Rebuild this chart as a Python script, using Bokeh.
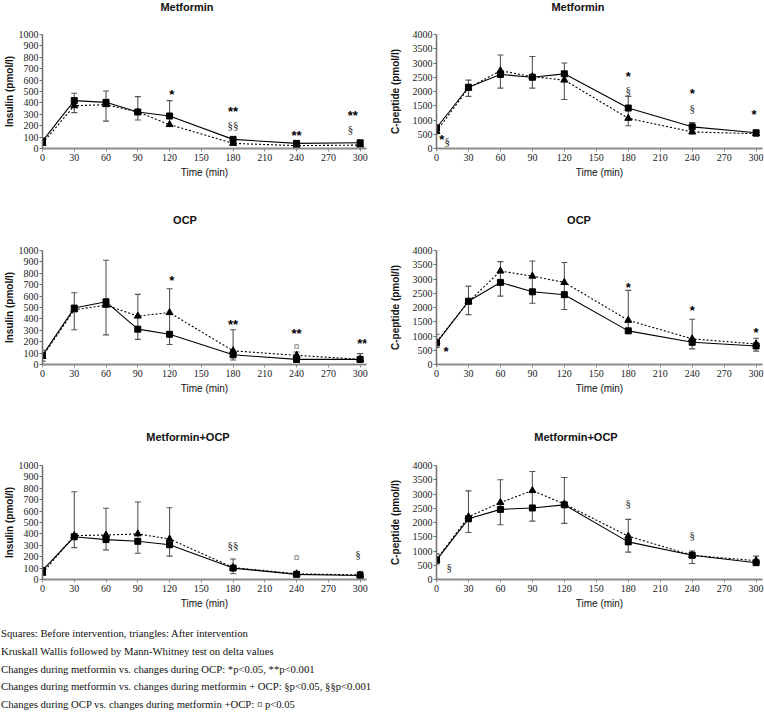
from bokeh.plotting import figure
from bokeh.layouts import column, row
from bokeh.models import Range1d, FixedTicker, Whisker, TeeHead, ColumnDataSource, Div, LabelSet
from bokeh.core.properties import value
from bokeh.embed import file_html
from bokeh.resources import INLINE

# ---------------- data ----------------
time = [0, 30, 60, 90, 120, 180, 240, 300]
x_ticks = [0, 30, 60, 90, 120, 150, 180, 210, 240, 270, 300]
ins_ticks = [0, 100, 200, 300, 400, 500, 600, 700, 800, 900, 1000]
cp_ticks = [0, 500, 1000, 1500, 2000, 2500, 3000, 3500, 4000]

# Metformin - insulin
met_ins_sq = [65, 420, 405, 320, 285, 80, 45, 50]
met_ins_tri = [45, 375, 385, 320, 210, 45, 25, 30]
met_ins_lo = [35, 315, 240, 250, 200, 40, 15, 25]
met_ins_hi = [90, 485, 505, 455, 420, 95, 60, 65]
met_ins_ann_x = [122, 180, 180, 240, 293, 291]
met_ins_ann_y = [512, 360, 205, 152, 327, 175]
met_ins_ann_t = ["*", "**", "§§", "**", "**", "§"]

# Metformin - C-peptide
met_cp_sq = [720, 2150, 2600, 2500, 2620, 1420, 760, 550]
met_cp_tri = [600, 2120, 2730, 2520, 2400, 1060, 580, 520]
met_cp_lo = [520, 1830, 2120, 2120, 1720, 800, 520, 430]
met_cp_hi = [820, 2400, 3280, 3230, 3000, 1830, 910, 630]
met_cp_ann_x = [5, 10, 180, 180, 240, 240, 298]
met_cp_ann_y = [450, 270, 2650, 2040, 2065, 1430, 1330]
met_cp_ann_t = ["*", "§", "*", "§", "*", "§", "*"]

# OCP - insulin
ocp_ins_sq = [80, 495, 550, 310, 265, 85, 45, 45]
ocp_ins_tri = [70, 480, 520, 425, 455, 120, 80, 45]
ocp_ins_lo = [30, 305, 260, 220, 175, 40, 20, 20]
ocp_ins_hi = [125, 630, 915, 615, 665, 305, 110, 95]
ocp_ins_ann_x = [122, 180, 240, 240, 302]
ocp_ins_ann_y = [770, 385, 310, 160, 222]
ocp_ins_ann_t = ["*", "**", "**", "¤", "**"]

# OCP - C-peptide
ocp_cp_sq = [760, 2220, 2880, 2550, 2450, 1180, 780, 650]
ocp_cp_tri = [790, 2200, 3280, 3100, 2880, 1550, 900, 720]
ocp_cp_lo = [600, 1750, 2400, 2150, 1930, 1100, 550, 470]
ocp_cp_hi = [1060, 2750, 3610, 3630, 3580, 2600, 1590, 920]
ocp_cp_ann_x = [9, 180, 240, 300]
ocp_cp_ann_y = [590, 2850, 2020, 1250]
ocp_cp_ann_t = ["*", "*", "*", "*"]

# Metformin+OCP - insulin
mo_ins_sq = [80, 375, 350, 335, 305, 100, 45, 35]
mo_ins_tri = [55, 385, 390, 400, 355, 105, 50, 40]
mo_ins_lo = [50, 280, 260, 230, 205, 50, 30, 20]
mo_ins_hi = [100, 770, 625, 680, 630, 180, 60, 70]
mo_ins_ann_x = [180, 240, 298]
mo_ins_ann_y = [300, 200, 226]
mo_ins_ann_t = ["§§", "¤", "§"]

# Metformin+OCP - C-peptide
mo_cp_sq = [680, 2130, 2460, 2510, 2620, 1320, 850, 590]
mo_cp_tri = [700, 2200, 2700, 3120, 2650, 1520, 850, 660]
mo_cp_lo = [550, 1650, 1920, 2050, 1970, 960, 560, 500]
mo_cp_hi = [900, 3110, 3500, 3790, 3580, 2110, 1000, 820]
mo_cp_ann_x = [12, 180, 240]
mo_cp_ann_y = [430, 2680, 1575]
mo_cp_ann_t = ["§", "§", "§"]

row_titles = [("Metformin", "Metformin"), ("OCP", "OCP"), ("Metformin+OCP", "Metformin+OCP")]

footnotes = [
    "Squares: Before intervention, triangles: After intervention",
    "Kruskall Wallis followed by Mann-Whitney test on delta values",
    "Changes during metformin vs. changes during OCP: *p&lt;0.05, **p&lt;0.001",
    "Changes during metformin vs. changes during metformin + OCP: §p&lt;0.05, §§p&lt;0.001",
    "Changes during OCP vs. changes during metformin +OCP: ¤ p&lt;0.05",
]

SANS = "Liberation Sans"
SERIF = "Liberation Serif"
X_END = 306


def panel(ylabel, ymax, yticks, sq, tri, lo, hi, ax, ay, at,
          width, height, mbl, mbr, mbt, mbb, ylab_stand):
    p = figure(width=width, height=height, x_range=Range1d(0, X_END),
               y_range=Range1d(0, ymax), output_backend="svg",
               toolbar_location=None,
               min_border_left=mbl, min_border_right=mbr,
               min_border_top=mbt, min_border_bottom=mbb)
    p.outline_line_color = None
    p.xgrid.visible = False
    p.ygrid.visible = False
    p.background_fill_color = "white"
    p.border_fill_color = "white"

    for axis in (p.xaxis[0], p.yaxis[0]):
        axis.major_tick_in = 0
        axis.major_tick_out = 3
        axis.minor_tick_out = 0
        axis.minor_tick_in = 0
        axis.major_label_text_font = SERIF
        axis.major_label_text_font_size = "10px"
        axis.major_label_text_color = "#222222"
        axis.axis_label_text_color = "#111111"
    p.xaxis.ticker = FixedTicker(ticks=x_ticks)
    p.xaxis.axis_label = "Time (min)"
    p.xaxis.axis_label_text_font = SANS
    p.xaxis.axis_label_text_font_style = "normal"
    p.xaxis.axis_label_text_font_size = "10px"
    p.xaxis.axis_line_color = "#8c8c8c"
    p.xaxis.axis_line_width = 2
    p.xaxis.major_tick_line_color = "#8c8c8c"
    p.xaxis.major_label_standoff = 2
    p.xaxis.axis_label_standoff = 3

    p.yaxis.ticker = FixedTicker(ticks=yticks)
    p.yaxis.axis_label = ylabel
    p.yaxis.axis_label_text_font = SANS
    p.yaxis.axis_label_text_font_style = "bold"
    p.yaxis.axis_label_text_font_size = "10px"
    p.yaxis.axis_line_color = "#6e6e6e"
    p.yaxis.axis_line_width = 1.5
    p.yaxis.major_tick_line_color = "#6e6e6e"
    p.yaxis.major_label_standoff = 1
    p.yaxis.axis_label_standoff = ylab_stand

    src = ColumnDataSource(dict(t=time, sq=sq, tri=tri, lo=lo, hi=hi))
    w = Whisker(source=src, base="t", lower="lo", upper="hi",
                line_color="#555555", line_width=1.1,
                upper_head=TeeHead(size=6, line_color="#555555", line_width=1.1),
                lower_head=TeeHead(size=6, line_color="#555555", line_width=1.1))
    p.add_layout(w)

    p.line("t", "tri", source=src, line_color="black", line_width=1.1, line_dash="2 2")
    p.line("t", "sq", source=src, line_color="black", line_width=1.1)
    p.scatter("t", "tri", source=src, marker="triangle", size=7,
              fill_color="black", line_color="black")
    p.scatter("t", "sq", source=src, marker="square", size=6,
              fill_color="black", line_color="black")

    sx, sy, st = [], [], []
    ox, oy, ot = [], [], []
    for x, y, t in zip(ax, ay, at):
        if "*" in t:
            sx.append(x); sy.append(y); st.append(t)
        else:
            ox.append(x); oy.append(y); ot.append(t)
    if sx:
        s1 = ColumnDataSource(dict(x=sx, y=sy, t=st))
        p.add_layout(LabelSet(x="x", y="y", text="t", source=s1,
                              text_font=value(SANS), text_font_style="bold",
                              text_font_size="13px", text_align="center",
                              text_baseline="middle", text_color="black", y_offset=-4))
    if ox:
        s2 = ColumnDataSource(dict(x=ox, y=oy, t=ot))
        p.add_layout(LabelSet(x="x", y="y", text="t", source=s2,
                              text_font=value(SERIF), text_font_size="11px",
                              text_align="center", text_baseline="middle",
                              text_color="#222222"))
    return p


def title_row(left_text, right_text, left_cx, right_cx):
    html = ('<div style="position:relative;width:764px;height:14px;'
            'font-family:\'Liberation Sans\',sans-serif;font-weight:bold;'
            'font-size:11px;line-height:14px;color:#111111">'
            '<span style="position:absolute;top:0;left:%dpx;width:140px;text-align:center">%s</span>'
            '<span style="position:absolute;top:0;left:%dpx;width:140px;text-align:center">%s</span>'
            '</div>') % (left_cx - 70, left_text, right_cx - 70, right_text)
    return Div(text=html, width=764, height=14, margin=0)


LW, RW = 382, 382
t1 = title_row(row_titles[0][0], row_titles[0][1], 187, 578)
p1 = panel("Insulin (pmol/l)", 1000, ins_ticks, met_ins_sq, met_ins_tri,
           met_ins_lo, met_ins_hi, met_ins_ann_x, met_ins_ann_y, met_ins_ann_t,
           LW, 199, 42, 16, 20, 65, 1)
p2 = panel("C-peptide (pmol/l)", 4000, cp_ticks, met_cp_sq, met_cp_tri,
           met_cp_lo, met_cp_hi, met_cp_ann_x, met_cp_ann_y, met_cp_ann_t,
           RW, 199, 54, 2, 20, 65, 9)
t2 = title_row(row_titles[1][0], row_titles[1][1], 185, 579)
p3 = panel("Insulin (pmol/l)", 1000, ins_ticks, ocp_ins_sq, ocp_ins_tri,
           ocp_ins_lo, ocp_ins_hi, ocp_ins_ann_x, ocp_ins_ann_y, ocp_ins_ann_t,
           LW, 203, 42, 16, 23, 66, 1)
p4 = panel("C-peptide (pmol/l)", 4000, cp_ticks, ocp_cp_sq, ocp_cp_tri,
           ocp_cp_lo, ocp_cp_hi, ocp_cp_ann_x, ocp_cp_ann_y, ocp_cp_ann_t,
           RW, 203, 54, 2, 23, 66, 9)
t3 = title_row(row_titles[2][0], row_titles[2][1], 188, 576)
p5 = panel("Insulin (pmol/l)", 1000, ins_ticks, mo_ins_sq, mo_ins_tri,
           mo_ins_lo, mo_ins_hi, mo_ins_ann_x, mo_ins_ann_y, mo_ins_ann_t,
           LW, 181, 42, 16, 21, 46, 1)
p6 = panel("C-peptide (pmol/l)", 4000, cp_ticks, mo_cp_sq, mo_cp_tri,
           mo_cp_lo, mo_cp_hi, mo_cp_ann_x, mo_cp_ann_y, mo_cp_ann_t,
           RW, 181, 54, 2, 21, 46, 9)

notes_html = "".join("<div>%s</div>" % s for s in footnotes)
div = Div(text=notes_html, width=764, height=88, margin=0,
          styles={"font-family": "'Liberation Serif', serif", "font-size": "10.7px",
                  "line-height": "17.8px", "padding-left": "1px",
                  "color": "#111111"})

layout = column(t1, row(p1, p2), t2, row(p3, p4), t3, row(p5, p6), div)

open("out.html", "w").write(file_html(layout, INLINE))
